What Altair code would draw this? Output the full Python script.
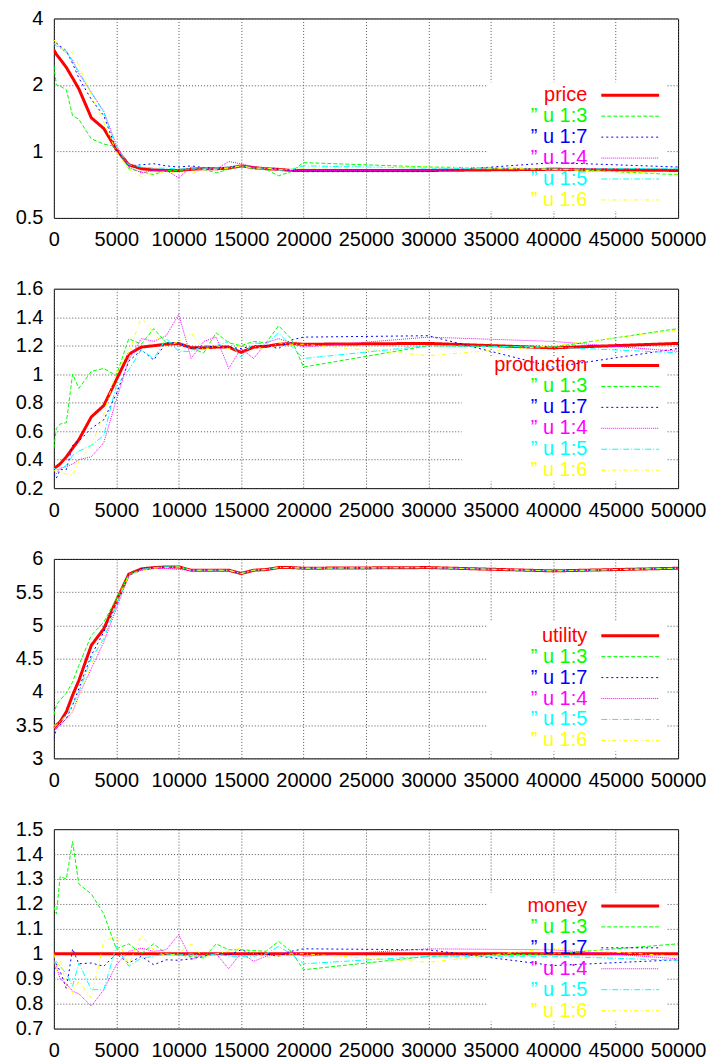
import altair as alt
import pandas as pd

FONT = "Liberation Sans"

# ---- data -------------------------------------------------------------
X = [0, 200, 500, 1000, 1500, 2000, 3000, 4000, 5000, 6000, 7000, 8000, 9000,
     10000, 11000, 12000, 13000, 14000, 15000, 16000, 17000, 18000, 19000,
     20000, 30000, 40000, 50000]

SERIES = ["main", "u13", "u17", "u14", "u15", "u16"]
SUB_LABELS = ["\u201d u 1:3", "\u201d u 1:7", "\u201d u 1:4", "\u201d u 1:5", "\u201d u 1:6"]
COLORS = ["#ff0000", "#00ff00", "#0000ff", "#ff00ff", "#00ffff", "#ffff00"]
DASHES = [[1, 0], [4, 2], [2, 3], [1, 1], [6, 2, 1, 2], [4, 3, 1, 3]]

X_TICKS = [0, 5000, 10000, 15000, 20000, 25000, 30000, 35000, 40000, 45000, 50000]

# price
PRICE_TICKS = [0.5, 1, 2, 4]
PRICE_MAIN = [2.88, 2.75, 2.62, 2.4, 2.15, 1.92, 1.42, 1.27, 1.02, 0.87, 0.835, 0.825, 0.82, 0.82,
              0.83, 0.835, 0.835, 0.84, 0.86, 0.845, 0.835, 0.83, 0.82, 0.82, 0.82, 0.83, 0.82]
PRICE_U13 = [2.45, 2.0, 1.98, 1.9, 1.45, 1.40, 1.14, 1.08, 1.05, 0.835, 0.81, 0.785, 0.82, 0.82,
             0.83, 0.83, 0.80, 0.83, 0.865, 0.83, 0.83, 0.775, 0.81, 0.89, 0.85, 0.835, 0.785]
PRICE_U17 = [3.25, 3.1, 3.0, 2.86, 2.5, 2.15, 1.72, 1.45, 1.02, 0.86, 0.87, 0.88, 0.86, 0.85,
             0.86, 0.845, 0.84, 0.845, 0.86, 0.84, 0.84, 0.83, 0.82, 0.81, 0.81, 0.89, 0.85]
PRICE_U14 = [3.0, 3.1, 2.95, 2.8, 2.6, 2.25, 1.85, 1.52, 1.07, 0.85, 0.80, 0.82, 0.82, 0.76,
             0.85, 0.84, 0.83, 0.90, 0.88, 0.85, 0.84, 0.83, 0.82, 0.82, 0.82, 0.84, 0.83]
PRICE_U15 = [3.1, 3.0, 2.95, 2.85, 2.55, 2.3, 1.85, 1.5, 1.05, 0.87, 0.85, 0.84, 0.84, 0.83,
             0.84, 0.84, 0.84, 0.85, 0.86, 0.84, 0.84, 0.82, 0.83, 0.86, 0.84, 0.83, 0.84]
PRICE_U16 = [3.2, 3.1, 2.95, 2.85, 2.8, 2.45, 1.8, 1.35, 1.0, 0.83, 0.77, 0.80, 0.81, 0.80,
             0.79, 0.83, 0.83, 0.84, 0.86, 0.84, 0.84, 0.83, 0.83, 0.84, 0.85, 0.83, 0.79]

# production
PROD_TICKS = [0.2, 0.4, 0.6, 0.8, 1.0, 1.2, 1.4, 1.6]
PROD_MAIN = [0.34, 0.35, 0.37, 0.42, 0.48, 0.54, 0.70, 0.78, 0.96, 1.14, 1.19, 1.2, 1.21, 1.215,
             1.186, 1.185, 1.19, 1.19, 1.153, 1.19, 1.195, 1.21, 1.215, 1.21, 1.216, 1.185, 1.216]
PROD_U13 = [0.48, 0.62, 0.65, 0.66, 1.0, 0.9, 1.02, 1.04, 0.99, 1.25, 1.21, 1.32, 1.22, 1.22,
            1.18, 1.15, 1.29, 1.22, 1.2, 1.23, 1.22, 1.34, 1.25, 1.05, 1.2, 1.19, 1.32]
PROD_U17 = [0.3, 0.27, 0.33, 0.33, 0.5, 0.53, 0.62, 0.68, 0.86, 1.09, 1.17, 1.1, 1.22, 1.22,
            1.18, 1.2, 1.19, 1.19, 1.18, 1.2, 1.2, 1.18, 1.24, 1.26, 1.27, 1.05, 1.18]
PROD_U14 = [0.32, 0.3, 0.34, 0.35, 0.37, 0.4, 0.42, 0.52, 0.82, 1.1, 1.25, 1.23, 1.27, 1.42,
            1.11, 1.23, 1.26, 1.04, 1.18, 1.11, 1.22, 1.25, 1.22, 1.19, 1.26, 1.23, 1.16]
PROD_U15 = [0.34, 0.33, 0.33, 0.36, 0.43, 0.46, 0.5, 0.57, 0.92, 1.03, 1.17, 1.11, 1.25, 1.16,
            1.16, 1.2, 1.2, 1.23, 1.12, 1.22, 1.21, 1.29, 1.2, 1.11, 1.2, 1.19, 1.15]
PROD_U16 = [0.32, 0.33, 0.31, 0.3, 0.29, 0.39, 0.5, 0.72, 1.02, 1.15, 1.4, 1.29, 1.19, 1.23,
            1.29, 1.17, 1.2, 1.18, 1.2, 1.2, 1.17, 1.22, 1.21, 1.21, 1.13, 1.2, 1.31]

# utility
UTIL_TICKS = [3, 3.5, 4, 4.5, 5, 5.5, 6]
UTIL_MAIN = [3.45, 3.5, 3.55, 3.7, 3.95, 4.17, 4.7, 4.95, 5.37, 5.77, 5.85, 5.87, 5.88, 5.88,
             5.83, 5.83, 5.83, 5.83, 5.78, 5.83, 5.84, 5.87, 5.87, 5.86, 5.87, 5.82, 5.86]
UTIL_U13 = [3.65, 3.8, 3.88, 3.98, 4.15, 4.4, 4.85, 5.05, 5.4, 5.77, 5.84, 5.87, 5.88, 5.88,
            5.83, 5.83, 5.83, 5.83, 5.78, 5.83, 5.84, 5.87, 5.87, 5.86, 5.87, 5.82, 5.86]
UTIL_U17 = [3.3, 3.45, 3.5, 3.6, 3.8, 4.05, 4.55, 4.9, 5.3, 5.75, 5.85, 5.87, 5.88, 5.88,
            5.83, 5.83, 5.83, 5.83, 5.78, 5.83, 5.84, 5.87, 5.87, 5.86, 5.87, 5.82, 5.86]
UTIL_U14 = [3.4, 3.45, 3.5, 3.6, 3.7, 3.95, 4.35, 4.75, 5.25, 5.75, 5.83, 5.86, 5.86, 5.84,
            5.83, 5.83, 5.83, 5.83, 5.78, 5.83, 5.84, 5.87, 5.87, 5.86, 5.87, 5.82, 5.86]
UTIL_U15 = [3.45, 3.5, 3.55, 3.65, 3.8, 4.0, 4.5, 4.8, 5.3, 5.75, 5.84, 5.87, 5.88, 5.88,
            5.83, 5.83, 5.83, 5.83, 5.78, 5.83, 5.84, 5.87, 5.87, 5.86, 5.87, 5.82, 5.86]
UTIL_U16 = [3.5, 3.5, 3.55, 3.65, 3.7, 3.9, 4.4, 4.85, 5.35, 5.75, 5.82, 5.86, 5.87, 5.88,
            5.83, 5.83, 5.83, 5.83, 5.78, 5.83, 5.84, 5.87, 5.87, 5.86, 5.87, 5.82, 5.86]

# money
MONEY_TICKS = [0.7, 0.8, 0.9, 1.0, 1.1, 1.2, 1.3, 1.4, 1.5]
MONEY_MAIN = [1.0, 1.0, 1.0, 1.0, 1.0, 1.0, 1.0, 1.0, 1.0, 1.0, 1.0, 1.0, 1.0, 1.0,
              1.0, 1.0, 1.0, 1.0, 1.0, 1.0, 1.0, 1.0, 1.0, 1.0, 1.0, 1.0, 1.0]
MONEY_U13 = [1.19, 1.16, 1.31, 1.30, 1.45, 1.28, 1.24, 1.16, 1.02, 1.04, 1.0, 1.04, 1.0, 0.995,
             0.99, 0.983, 1.04, 1.016, 1.016, 1.013, 1.01, 1.05, 1.01, 0.936, 0.99, 1.0, 1.04]
MONEY_U17 = [0.92, 0.96, 0.93, 0.86, 1.02, 0.96, 0.963, 0.95, 1.0, 0.963, 0.99, 0.956, 0.976, 0.974,
             0.98, 0.99, 1.0, 0.995, 1.016, 1.0, 1.0, 0.99, 1.01, 1.02, 1.016, 0.953, 0.976]
MONEY_U14 = [0.98, 0.95, 0.9, 0.88, 0.85, 0.84, 0.79, 0.856, 0.956, 1.01, 1.023, 1.01, 1.016, 1.077,
             0.976, 1.0, 1.0, 0.94, 1.003, 0.97, 0.99, 1.0, 1.01, 0.99, 1.02, 1.016, 0.98]
MONEY_U15 = [0.96, 0.97, 0.95, 0.92, 0.87, 0.963, 0.856, 0.856, 1.03, 0.95, 0.983, 0.99, 1.0, 0.995,
             1.0, 0.99, 1.0, 0.99, 0.99, 0.99, 1.0, 1.03, 1.0, 0.96, 0.99, 0.99, 0.974]
MONEY_U16 = [1.0, 0.93, 0.98, 0.87, 0.843, 0.89, 0.823, 1.05, 1.07, 0.956, 1.074, 1.016, 0.99, 1.003,
             1.04, 0.983, 1.0, 1.01, 1.023, 1.0, 0.983, 0.99, 1.0, 1.0, 0.966, 1.023, 0.99]

PANELS = [
    ("price", [PRICE_MAIN, PRICE_U13, PRICE_U17, PRICE_U14, PRICE_U15, PRICE_U16],
     alt.Scale(type="log", domain=[0.5, 4], nice=False), PRICE_TICKS, 64),
    ("production", [PROD_MAIN, PROD_U13, PROD_U17, PROD_U14, PROD_U15, PROD_U16],
     alt.Scale(domain=[0.2, 1.6], nice=False, zero=False), PROD_TICKS, 68),
    ("utility", [UTIL_MAIN, UTIL_U13, UTIL_U17, UTIL_U14, UTIL_U15, UTIL_U16],
     alt.Scale(domain=[3, 6], nice=False, zero=False), UTIL_TICKS, 63),
    ("money", [MONEY_MAIN, MONEY_U13, MONEY_U17, MONEY_U14, MONEY_U15, MONEY_U16],
     alt.Scale(domain=[0.7, 1.5], nice=False, zero=False), MONEY_TICKS, 64),
]

W, H = 626, 200

color = alt.Color("series:N", scale=alt.Scale(domain=SERIES, range=COLORS), legend=None)
dash = alt.StrokeDash("series:N", scale=alt.Scale(domain=SERIES, range=DASHES), legend=None)


def panel(name, values, yscale, yticks, key_top):
    rows = []
    for s, vals in zip(SERIES, values):
        for xv, v in zip(X, vals):
            rows.append({"x": xv, "v": v, "series": s})
    df = pd.DataFrame(rows)

    xenc = alt.X("x:Q", scale=alt.Scale(domain=[0, 50000], nice=False, zero=False),
                 axis=alt.Axis(values=X_TICKS, format="d", title=None, grid=True))
    yenc = alt.Y("v:Q", scale=yscale,
                 axis=alt.Axis(values=yticks, format="~g", title=None, grid=True))

    keybox = alt.Chart(pd.DataFrame({"k": [0]})).mark_rect(color="white").encode(
        x=alt.value(435 if name != "production" else 409), x2=alt.value(W - 12),
        y=alt.value(key_top), y2=alt.value(193))

    main_line = alt.Chart(df[df.series == "main"]).mark_line(clip=True, strokeWidth=3).encode(
        x=xenc, y=yenc, color=color, strokeDash=dash)
    other_lines = alt.Chart(df[df.series != "main"]).mark_line(clip=True, strokeWidth=1).encode(
        x=xenc, y=yenc, color=color, strokeDash=dash)

    leg = pd.DataFrame({"series": SERIES, "label": [name] + SUB_LABELS,
                        "row": [0, 1, 2, 3, 4, 5]})
    ly = alt.Y("row:Q", scale=alt.Scale(domain=[0, 5], range=[77, 182]), axis=None)
    leg_text = alt.Chart(leg).mark_text(align="right", baseline="middle", font=FONT,
                                        fontSize=20).encode(
        x=alt.value(535), y=ly, text="label:N", color=color)
    leg_main = alt.Chart(leg[leg.series == "main"]).mark_rule(strokeWidth=3).encode(
        x=alt.value(549), x2=alt.value(607), y=ly, color=color, strokeDash=dash)
    leg_other = alt.Chart(leg[leg.series != "main"]).mark_rule(strokeWidth=1).encode(
        x=alt.value(549), x2=alt.value(607), y=ly, color=color, strokeDash=dash)

    data_layer = alt.layer(keybox, main_line, other_lines)
    legend_layer = alt.layer(leg_main, leg_other, leg_text)
    return alt.layer(data_layer, legend_layer).resolve_scale(y="independent").properties(
        width=W, height=H)


chart = alt.vconcat(*[panel(*p) for p in PANELS], spacing=71, bounds="flush").properties(
    padding={"left": 6, "top": -2, "right": 0, "bottom": 0}
).configure_view(stroke="black", strokeWidth=1).configure_axis(
    labelFont=FONT, labelFontSize=20, labelColor="black", ticks=False, domain=False,
    gridColor="#555555", gridDash=[1, 2], gridOpacity=1, gridWidth=1,
    labelFlush=False, labelOverlap=False, labelPadding=11
).configure_axisX(labelPadding=12)

chart.save("out.html", embed_options={"renderer": "svg", "actions": False})
